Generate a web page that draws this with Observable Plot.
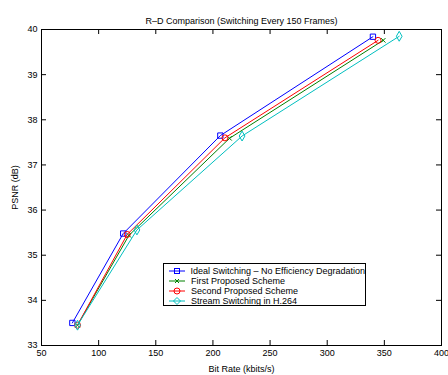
<!DOCTYPE html>
<html>
<head>
<meta charset="utf-8">
<script src="https://cdn.jsdelivr.net/npm/d3@7"></script>
<script src="https://cdn.jsdelivr.net/npm/@observablehq/plot@0.6"></script>
<style>
  body { margin: 0; background: #fff; font-family: "Liberation Sans", Arial, sans-serif; }
  #wrap { position: relative; width: 448px; height: 375px; }
  #legend { position: absolute; left: 163px; top: 263px; width: 203px; height: 43px;
    border: 1px solid #000; background: #fff; box-sizing: border-box; padding-top: 2px; }
  .row { height: 10px; display: flex; align-items: center; font-size: 9px; line-height: 10px; white-space: nowrap; }
  .row svg { margin-left: 3px; margin-right: 4px; }
</style>
</head>
<body>
<div id="wrap"></div>
<script>
const title = "R\u2013D Comparison (Switching Every 150 Frames)";
const xLabel = "Bit Rate (kbits/s)";
const yLabel = "PSNR (dB)";
const xTicks = [50, 100, 150, 200, 250, 300, 350, 400];
const yTicks = [33, 34, 35, 36, 37, 38, 39, 40];

const seriesNames = [
  "Ideal Switching \u2013 No Efficiency Degradation",
  "First Proposed Scheme",
  "Second Proposed Scheme",
  "Stream Switching in H.264"
];
const seriesColors = ["#0000ff", "#008000", "#ff0000", "#00bfbf"];
const seriesSymbols = ["square", "times", "circle", "diamond"];

const rateIdeal  = [77, 121.5, 206.5, 340];
const psnrIdeal  = [33.5, 35.48, 37.65, 39.84];
const rateFirst  = [81.5, 126.5, 214.5, 349];
const psnrFirst  = [33.45, 35.44, 37.59, 39.76];
const rateSecond = [81.5, 125, 210.5, 344.5];
const psnrSecond = [33.45, 35.46, 37.6, 39.76];
const rateStream = [81.5, 133.5, 225.5, 363];
const psnrStream = [33.45, 35.56, 37.64, 39.85];

const rates = [rateIdeal, rateFirst, rateSecond, rateStream];
const psnrs = [psnrIdeal, psnrFirst, psnrSecond, psnrStream];
const data = [];
seriesNames.forEach((s, i) => rates[i].forEach((r, j) => data.push({series: s, rate: r, psnr: psnrs[i][j], idx: i})));

const W = 448, H = 375, mL = 41, mR = 7, mT = 29, mB = 30;
const plotH = H - mT - mB, plotW = W - mL - mR;

const marks = [
  Plot.frame({stroke: "black", strokeWidth: 1}),
  Plot.ruleX(xTicks, {insetTop: plotH - 5, stroke: "black"}),
  Plot.ruleX(xTicks, {insetBottom: plotH - 5, stroke: "black"}),
  Plot.ruleY(yTicks, {insetRight: plotW - 5, stroke: "black"}),
  Plot.ruleY(yTicks, {insetLeft: plotW - 5, stroke: "black"}),
  Plot.axisX(xTicks, {tickSize: 0, tickPadding: 4, fontSize: 9, label: xLabel, labelAnchor: "center", labelArrow: "none", labelOffset: 26}),
  Plot.axisY(yTicks, {tickSize: 0, tickPadding: 4, fontSize: 9, label: yLabel, labelAnchor: "center", labelArrow: "none", labelOffset: 30}),
  Plot.text([title], {frameAnchor: "top", dy: -12, fontSize: 9, fill: "#000"})
];
seriesNames.forEach((s, i) => {
  const d = data.filter(e => e.idx === i);
  marks.push(Plot.line(d, {x: "rate", y: "psnr", stroke: seriesColors[i], strokeWidth: 1}));
  marks.push(Plot.dot(d, {x: "rate", y: "psnr", stroke: seriesColors[i], symbol: seriesSymbols[i], r: i === 1 ? 2.2 : 3, fill: "none", strokeWidth: 1}));
});

const chart = Plot.plot({
  width: W, height: H,
  marginLeft: mL, marginRight: mR, marginTop: mT, marginBottom: mB,
  style: {fontFamily: "Liberation Sans, Arial, sans-serif", fontSize: "9px", color: "#000", background: "#fff"},
  x: {domain: [50, 400]},
  y: {domain: [33, 40]},
  marks
});
document.getElementById("wrap").appendChild(chart);

const legend = document.createElement("div");
legend.id = "legend";
const symPaths = {
  square: '<rect x="7.5" y="2.5" width="5" height="5" fill="none"/>',
  times: '<path d="M8 3L12 7M12 3L8 7" fill="none"/>',
  circle: '<circle cx="10" cy="5" r="3" fill="none"/>',
  diamond: '<path d="M10 1.5L13.5 5L10 8.5L6.5 5Z" fill="none"/>'
};
seriesNames.forEach((s, i) => {
  const row = document.createElement("div");
  row.className = "row";
  row.innerHTML = `<svg width="20" height="10"><g stroke="${seriesColors[i]}" stroke-width="1"><line x1="2" y1="5" x2="18" y2="5"/>${symPaths[seriesSymbols[i]]}</g></svg><span>${s}</span>`;
  legend.appendChild(row);
});
document.getElementById("wrap").appendChild(legend);
</script>
</body>
</html>
